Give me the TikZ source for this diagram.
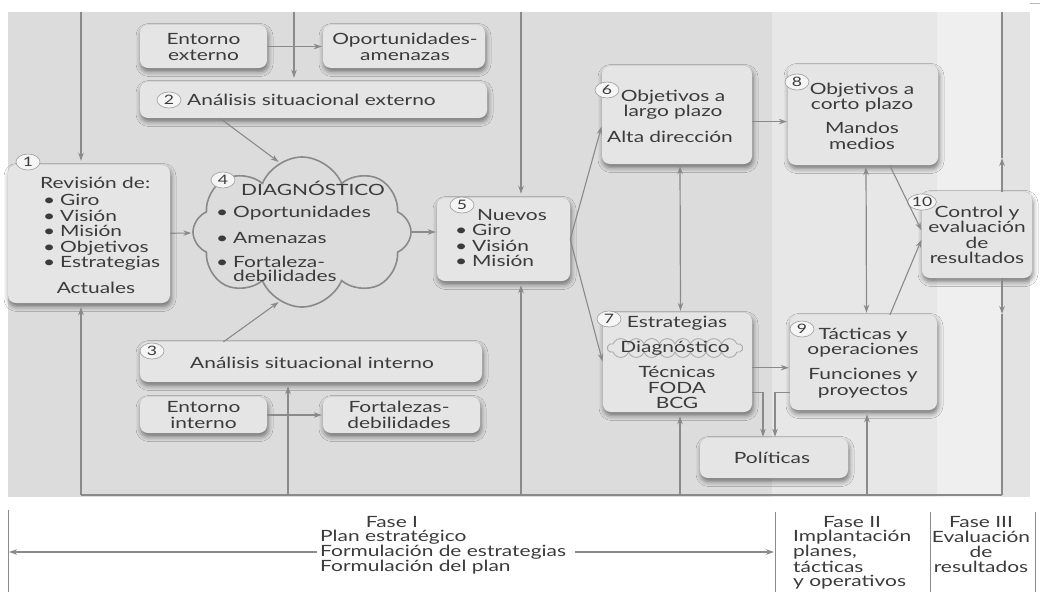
\documentclass[tikz,border=0pt]{standalone}
\usepackage{fontspec}
\setmainfont{Lato}[FakeStretch=1.35]
\usetikzlibrary{arrows.meta,shapes.symbols,shapes.geometric,shadows.blur}

\definecolor{panelgray}{HTML}{DCDCDC}
\definecolor{bandlight}{HTML}{E7E7E7}
\definecolor{bandwhite}{HTML}{EFEFEF}
\definecolor{bandedge}{HTML}{E3E3E3}
\definecolor{boxgray}{HTML}{E5E5E5}
\definecolor{wire}{HTML}{8A8A8A}
\definecolor{ink}{HTML}{3B3B3B}

% bullet item with a fixed slot for the bullet
\newcommand{\itm}[1]{\makebox[17pt][l]{•}#1}

\tikzset{
  every node/.style={inner sep=0pt, text=ink},
  txt/.style={font=\fontsize{15.5}{15.5}\selectfont, align=center},
  ltxt/.style={font=\fontsize{15.5}{15.5}\selectfont, align=left},
  phase/.style={font=\fontsize{15.5}{15.5}\selectfont},
  box/.style={fill=boxgray, rounded corners=8pt,
    blur shadow={shadow xshift=1pt, shadow yshift=-3.5pt,
                 shadow blur radius=5pt, shadow opacity=50}},
  num/.style={ellipse, draw=gray!70, line width=0.7pt, fill=white!92!gray,
    minimum width=24pt, minimum height=16pt, font=\fontsize{13}{13}\selectfont},
  wireline/.style={draw=wire, line width=1.4pt},
  tip/.style={-{Stealth[length=8pt,width=5.5pt]}},
  link/.style={draw=wire, line width=1.1pt, tip, shorten >=1pt},
  flow/.style={draw=wire, line width=1.4pt, tip, shorten >=4pt},
  midflow/.style={draw=wire, line width=1.4pt, tip},
  twoway/.style={draw=wire, line width=1.2pt,
    {Stealth[length=8pt,width=5.5pt]}-{Stealth[length=8pt,width=5.5pt]},
    shorten >=2pt, shorten <=2pt},
  phaseline/.style={draw=wire, line width=1pt},
  puffline/.style={draw=gray!65, line width=0.9pt},
}

\begin{document}
\begin{tikzpicture}[x=1pt,y=-1pt]
\useasboundingbox (0,0) rectangle (1040,592);
\fill[white] (0,0) rectangle (1040,592);

% background bands of the three phases
\fill[panelgray] (8,12) rectangle (772,497);
\fill[bandlight] (772,12) rectangle (937,497);
\fill[bandwhite] (937,12) rectangle (1002,497);
\fill[bandedge] (1002,12) rectangle (1030,497);
\draw[gray!55, line width=0.8pt] (1030,3) -- (1040,3);

% boxes
\node[box, minimum width=127pt, minimum height=43pt] (ee) at (203.5,46.5) {};
\node[box, minimum width=162pt, minimum height=43pt] (oa) at (404,46.5) {};
\node[box, minimum width=347pt, minimum height=36pt] (b2) at (313.5,100) {};
\node[box, minimum width=162pt, minimum height=138pt] (b1) at (89,234) {};
\node[box, minimum width=342pt, minimum height=40pt] (b3) at (311,362) {};
\node[box, minimum width=127pt, minimum height=36pt] (ei) at (203.5,415) {};
\node[box, minimum width=157pt, minimum height=36pt] (fd) at (401.5,415) {};
\node[box, minimum width=133pt, minimum height=83pt] (b5) at (503.5,239.5) {};
\node[box, minimum width=150pt, minimum height=98pt] (b6) at (677,115) {};
\node[box, minimum width=150pt, minimum height=100pt] (b8) at (863,115) {};
\node[box, minimum width=149pt, minimum height=99pt] (b7) at (677.5,362.5) {};
\node[box, minimum width=147pt, minimum height=95pt] (b9) at (863.5,362.5) {};
\node[box, minimum width=148pt, minimum height=40pt] (pol) at (774,458) {};
\node[box, minimum width=110pt, minimum height=86pt] (b10) at (977,235) {};

% diagnosis cloud
\node[cloud, cloud puffs=8, cloud puff arc=135, cloud ignores aspect,
      draw=wire, line width=1.6pt, minimum width=218pt, minimum height=150pt]
      (dg) at (302,232) {};

% texts
\node[txt] (tee) at (203.5,47) {Entorno\\externo};
\node[txt] (toa) at (405,47) {Oportunidades-\\amenazas};
\node[num] (n2) at (169,100) {2};
\node[txt, anchor=west] (tb2) at (187,100) {Análisis situacional externo};

\node[num] (n1) at (28,162) {1};
\node[txt, anchor=west] (tb1h) at (40,183) {Revisión de:};
\node[ltxt, anchor=west] (tb1l) at (43,232.5)
  {\itm{Giro}\\\itm{Visión}\\\itm{Misión}\\\itm{Objetivos}\\\itm{Estrategias}};
\node[txt] (tb1f) at (96,288) {Actuales};

\node[num] (n4) at (223,180) {4};
\node[txt, anchor=west] (tdg) at (241,188) {DIAGNÓSTICO};
\node[ltxt, anchor=west] (tdg1) at (216,213) {\itm{Oportunidades}};
\node[ltxt, anchor=west] (tdg2) at (216,238) {\itm{Amenazas}};
\node[ltxt, anchor=west, font=\fontsize{15.5}{13.5}\selectfont] (tdg3) at (216,269)
  {\itm{Fortaleza-}\\\hspace*{17pt}debilidades};

\node[num] (n3) at (152,351) {3};
\node[txt, anchor=west] (tb3) at (190,363) {Análisis situacional interno};
\node[txt] (tei) at (203.5,415) {Entorno\\interno};
\node[txt] (tfd) at (399,415) {Fortalezas-\\debilidades};

\node[num] (n5) at (462,205) {5};
\node[txt] (tb5h) at (512,215) {Nuevos};
\node[ltxt, anchor=west] (tb5l) at (455,245.5) {\itm{Giro}\\\itm{Visión}\\\itm{Misión}};

\node[num] (n6) at (607,90) {6};
\node[txt] (tb6a) at (673,104.5) {Objetivos a\\largo plazo};
\node[txt] (tb6b) at (670,137) {Alta dirección};

\node[num] (n8) at (797,82) {8};
\node[txt] (tb8a) at (862,97.5) {Objetivos a\\corto plazo};
\node[txt] (tb8b) at (862,136) {Mandos\\medios};

\node[num] (n7) at (609,319) {7};
\node[txt] (tb7a) at (677,323) {Estrategias};
% small puffy outline around the diagnosis label
\begin{scope}[shift={(675,348)}]
  \draw[puffline] (-62,-4)
    \foreach \k in {1,...,8} {arc[start angle=160, end angle=20, radius=8.25pt]}
    arc[start angle=110, end angle=-110, radius=4.26pt]
    \foreach \k in {1,...,8} {arc[start angle=-20, end angle=-160, radius=8.25pt]}
    arc[start angle=-70, end angle=-290, radius=4.26pt] -- cycle;
\end{scope}
\node[txt] (tdg7) at (675,348) {Diagnóstico};
\node[txt] (tb7b) at (677,387.5) {Técnicas\\FODA\\BCG};

\node[num] (n9) at (802,329) {9};
\node[txt] (tb9a) at (863,342.5) {Tácticas y\\operaciones};
\node[txt] (tb9b) at (863,383) {Funciones y\\proyectos};

\node[txt] (tpol) at (772,458) {Políticas};

\node[num] (n10) at (922,202) {10};
\node[txt] (tb10) at (977,235) {Control y\\evaluación\\de\\resultados};

% connectors between boxes
\draw[link] (ee) -- (oa);
\draw[link] (ei) -- (fd);
\draw[link] (b2.191) -- (dg.108);
\draw[link] (b3.167) -- (dg.252);
\draw[link] (b1) -- (dg);
\draw[link] (dg.east) -- (dg.east -| b5.west);
\draw[link] (b5.east) -- (b6.188);
\draw[link] (b5.east) -- (b7.west);
\draw[link] (b6.-5) -- (b6.-5 -| b8.west);
\draw[twoway] ([xshift=3pt]b6.south) -- ([xshift=3pt]b7.north);
\draw[twoway] ([xshift=3pt]b8.south) -- ([xshift=3pt]b9.north);
\draw[link] (b7.-4) -- (b7.-4 -| b9.west);
\draw[link] (b7.-22) -| ([xshift=-11pt]pol.north);
\draw[link] (b9.202) -| ([xshift=1pt]pol.north);
\draw[link] (b8.-62) -- (b10.176);
\draw[link] (b9.61) -- (b10.184);

% feedback frame
\coordinate (topA) at (81,12);
\coordinate (topB) at (294,12);
\coordinate (topC) at (521,12);
\coordinate (topD) at (1002,12);
\coordinate (botA) at (81,495);
\coordinate (botB) at (288,495);
\coordinate (botC) at (521,495);
\coordinate (botD) at (680,495);
\coordinate (botE) at (867,495);
\coordinate (botF) at (1002,495);
\coordinate (upTip) at (1002,158);
\coordinate (dnTip) at (1002,314);

\draw[flow] (topA) -- (topA |- b1.north);
\draw[flow] (botA) -- (botA |- b1.south);
\draw[flow] (topB) -- (topB |- b2.north);
\draw[flow] (botB) -- (botB |- b3.south);
\draw[flow] (topC) -- (topC |- b5.north);
\draw[flow] (botC) -- (botC |- b5.south);
\draw[flow] (botD) -- (botD |- b7.south);
\draw[flow] (botE) -- (botE |- b9.south);
\draw[wireline] (botA) -- (botF);
\draw[midflow] (topD |- b10.north) -- (upTip);
\draw[wireline] (upTip) -- (topD);
\draw[midflow] (topD |- b10.south) -- (dnTip);
\draw[wireline] (dnTip) -- (botF);

% phase legend
\coordinate (mA1) at (8,510);   \coordinate (mA2) at (8,592);
\coordinate (mB1) at (775,512); \coordinate (mB2) at (775,592);
\coordinate (mC1) at (930,512); \coordinate (mC2) at (930,592);
\coordinate (mD1) at (1035,512); \coordinate (mD2) at (1035,592);
\draw[phaseline] (mA1) -- (mA2);
\draw[phaseline] (mB1) -- (mB2);
\draw[phaseline] (mC1) -- (mC2);
\draw[phaseline] (mD1) -- (mD2);

\node[phase] (p1h) at (392,522) {Fase I};
\node[phase, anchor=west] (p1a) at (320,537) {Plan estratégico};
\node[phase, anchor=west] (p1b) at (320,552) {Formulación de estrategias};
\node[phase, anchor=west] (p1c) at (320,567) {Formulación del plan};
\draw[link] ([xshift=-3pt]p1b.west) -- (p1b.west -| mA1);
\draw[link] ([xshift=9pt]p1b.east) -- (p1b.east -| mB1);

\node[phase] (p2h) at (852,522) {Fase II};
\node[phase, anchor=west] (p2a) at (793,537) {Implantación};
\node[phase, anchor=west] (p2b) at (793,552) {planes,};
\node[phase, anchor=west] (p2c) at (793,567) {tácticas};
\node[phase, anchor=west] (p2d) at (793,582) {y operativos};

\node[phase] (p3h) at (981,522) {Fase III};
\node[phase] (p3a) at (981,537) {Evaluación};
\node[phase] (p3b) at (981,552) {de};
\node[phase] (p3c) at (981,567) {resultados};
\end{tikzpicture}
\end{document}
